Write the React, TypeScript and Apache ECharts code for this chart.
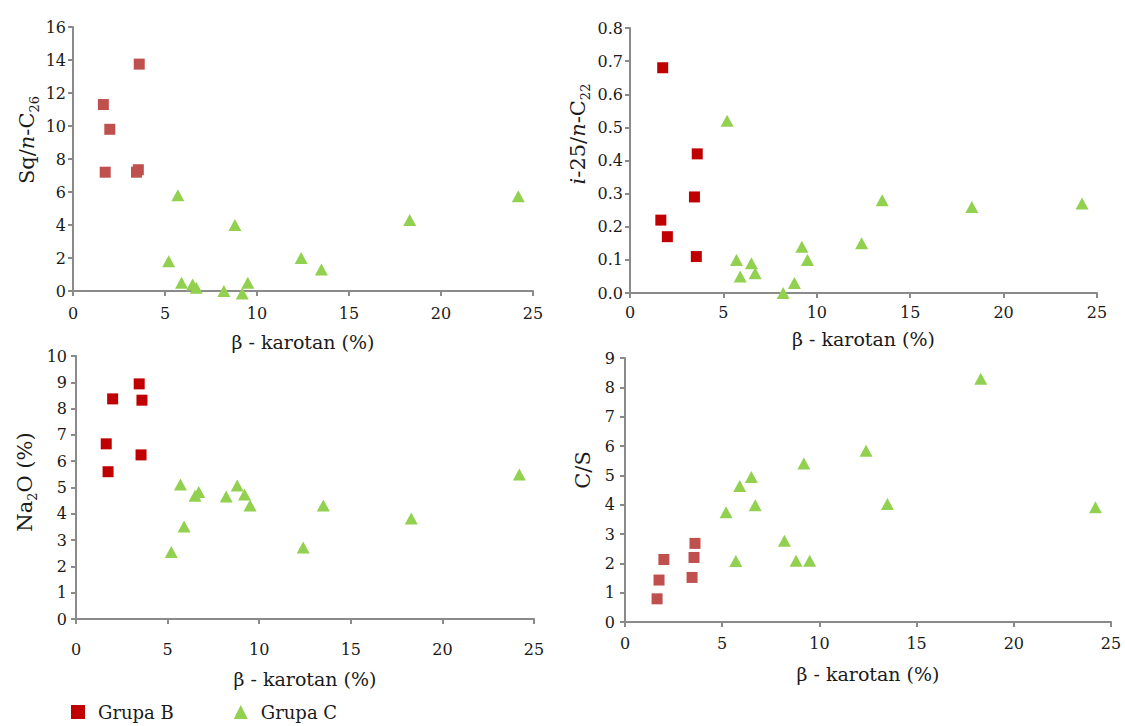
import React, { useEffect, useRef } from "react";
import * as echarts from "echarts";

// β-karotan (%) of samples
const xGroupB = [1.65, 1.75, 2.0, 3.45, 3.55, 3.6];
const xGroupC = [5.2, 5.7, 5.9, 6.5, 6.7, 8.2, 8.8, 9.2, 9.5, 12.4, 13.5, 18.3, 24.2];

// Sq/n-C26
const sqB = [11.3, 7.2, 9.8, 7.2, 7.35, 13.75];
const sqC = [1.8, 5.8, 0.5, 0.4, 0.2, 0.0, 4.0, -0.15, 0.5, 2.0, 1.3, 4.3, 5.75];

// i-25/n-C22
const i25B = [0.22, 0.68, 0.17, 0.29, 0.11, 0.42];
const i25C = [0.52, 0.1, 0.05, 0.09, 0.06, 0.0, 0.03, 0.14, 0.1, 0.15, 0.28, 0.26, 0.27];

// Na2O (%)
const na2oB = [6.66, 5.6, 8.37, 8.94, 6.24, 8.32];
const na2oC = [2.55, 5.11, 3.52, 4.69, 4.83, 4.66, 5.08, 4.73, 4.32, 2.72, 4.32, 3.82, 5.49];

// C/S
const csB = [0.79, 1.43, 2.13, 1.52, 2.2, 2.68];
const csC = [3.74, 2.08, 4.64, 4.94, 3.98, 2.77, 2.09, 5.4, 2.09, 5.84, 4.02, 8.29, 3.91];

const seriesNames = ["Grupa B", "Grupa C"];
const xAxisTitle = "β - karotan (%)";

const FONT = "DejaVu Serif";
const TXT = "#1a1a1a";
const AXIS = "#8a8a8a";
const GREEN = "#92d050";
const RED_DARK = "#c00000";
const RED_LIGHT = "#c0504d";

const panels = [
  { b: sqB, c: sqC, yMin: 0, yMax: 16, yInt: 2, dec: 0, red: RED_LIGHT,
    grid: { left: 73, top: 27, width: 460, height: 264 }, xMargin: 14, nameGap: 41, yMargin: 7 },
  { b: i25B, c: i25C, yMin: 0, yMax: 0.8, yInt: 0.1, dec: 1, red: RED_DARK,
    grid: { left: 630, top: 28, width: 467, height: 265 }, xMargin: 11, nameGap: 36, yMargin: 7 },
  { b: na2oB, c: na2oC, yMin: 0, yMax: 10, yInt: 1, dec: 0, red: RED_DARK,
    grid: { left: 76, top: 356, width: 458, height: 263 }, xMargin: 22, nameGap: 50, yMargin: 9 },
  { b: csB, c: csC, yMin: 0, yMax: 9, yInt: 1, dec: 0, red: RED_LIGHT,
    grid: { left: 625, top: 358, width: 486, height: 264 }, xMargin: 13, nameGap: 42, yMargin: 10 },
];

const yTitles = [
  { text: "{a|Sq/}{i|n}{a|-C}{s|26}", x: 27, y: 140 },
  { text: "{i|i}{a|-25/}{i|n}{a|-C}{s|22}", x: 578, y: 134 },
  { text: "{a|Na}{s|2}{a|O (%)}", x: 25, y: 482 },
  { text: "{a|C/S}", x: 583, y: 470 },
];

const rich = {
  a: { fontSize: 21, fontFamily: FONT, fill: TXT, lineHeight: 28 },
  i: { fontSize: 21, fontFamily: FONT, fill: TXT, fontStyle: "italic", lineHeight: 28 },
  s: { fontSize: 13, fontFamily: FONT, fill: TXT, lineHeight: 14, verticalAlign: "bottom" },
};

export default function App() {
  const ref = useRef<HTMLDivElement>(null);
  useEffect(() => {
    if (!ref.current) return;
    const chart = echarts.init(ref.current, null, { renderer: "svg" });
    const grids = panels.map((p) => ({ ...p.grid, containLabel: false }));
    const xAxes = panels.map((p, i) => ({
      type: "value",
      gridIndex: i,
      min: 0,
      max: 25,
      interval: 5,
      splitLine: { show: false },
      axisLine: { show: true, onZero: false, lineStyle: { color: AXIS, width: 2 } },
      axisTick: { show: true, length: 5, lineStyle: { color: AXIS, width: 2 } },
      axisLabel: { fontSize: 16, color: TXT, fontFamily: FONT, margin: p.xMargin },
      name: xAxisTitle,
      nameLocation: "middle",
      nameGap: p.nameGap,
      nameTextStyle: { fontSize: 19, color: TXT, fontFamily: FONT },
    }));
    const yAxes = panels.map((p, i) => ({
      type: "value",
      gridIndex: i,
      min: p.yMin,
      max: p.yMax,
      interval: p.yInt,
      splitLine: { show: false },
      axisLine: { show: true, onZero: false, lineStyle: { color: AXIS, width: 2 } },
      axisTick: { show: true, length: 5, lineStyle: { color: AXIS, width: 2 } },
      axisLabel: {
        fontSize: 16,
        color: TXT,
        fontFamily: FONT,
        margin: p.yMargin,
        formatter: (v: number) => v.toFixed(p.dec),
      },
    }));
    const series: any[] = [];
    panels.forEach((p, i) => {
      series.push({
        type: "scatter",
        name: seriesNames[0],
        xAxisIndex: i,
        yAxisIndex: i,
        clip: false,
        symbol: "rect",
        symbolSize: 11,
        itemStyle: { color: p.red, opacity: 1 },
        data: xGroupB.map((x, k) => [x, p.b[k]]),
      });
      series.push({
        type: "scatter",
        name: seriesNames[1],
        xAxisIndex: i,
        yAxisIndex: i,
        clip: false,
        symbol: "triangle",
        symbolSize: [13, 12],
        itemStyle: { color: GREEN, opacity: 1 },
        data: xGroupC.map((x, k) => [x, p.c[k]]),
      });
    });
    chart.setOption({
      animation: false,
      backgroundColor: "#ffffff",
      textStyle: { fontFamily: FONT },
      grid: grids,
      xAxis: xAxes,
      yAxis: yAxes,
      series,
      legend: {
        left: 71,
        top: 703,
        padding: 0,
        itemWidth: 14,
        itemHeight: 14,
        itemGap: 60,
        data: [
          { name: seriesNames[0], icon: "rect", itemStyle: { color: RED_DARK, opacity: 1 } },
          { name: seriesNames[1], icon: "triangle", itemStyle: { color: GREEN, opacity: 1 } },
        ],
        textStyle: { fontSize: 18, color: TXT, fontFamily: FONT, padding: [0, 0, 0, 8] },
      },
      graphic: yTitles.map((t) => ({
        type: "text",
        x: t.x,
        y: t.y,
        rotation: Math.PI / 2,
        style: { text: t.text, rich, align: "center", verticalAlign: "middle", fill: TXT, fontFamily: FONT },
      })),
    });
    return () => chart.dispose();
  }, []);
  return (
    <div
      ref={ref}
      style={{ position: "absolute", left: 0, top: 0, width: 1125, height: 726, background: "#fff" }}
    />
  );
}
